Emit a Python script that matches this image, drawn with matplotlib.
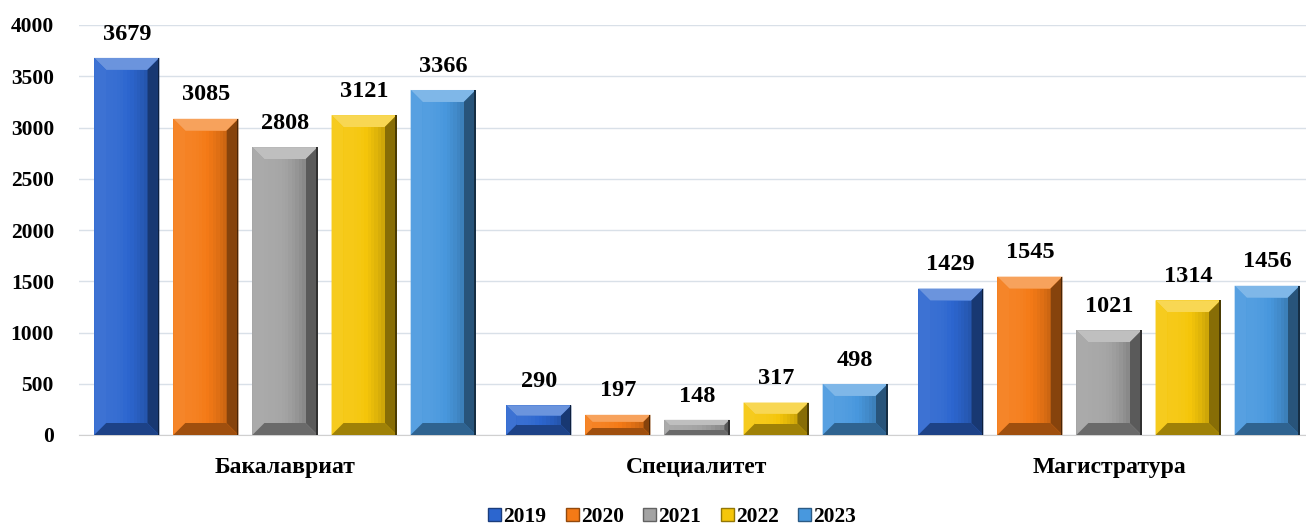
import matplotlib
matplotlib.use("Agg")
import matplotlib.pyplot as plt
import matplotlib.colors as mcolors
from matplotlib.patches import Polygon
from matplotlib.patches import Patch
import numpy as np

# -----------------------------------
# DATA
# -----------------------------------

categories = ["Бакалавриат", "Специалитет", "Магистратура"]
years = ["2019", "2020", "2021", "2022", "2023"]

values_2019 = [3679, 290, 1429]
values_2020 = [3085, 197, 1545]
values_2021 = [2808, 148, 1021]
values_2022 = [3121, 317, 1314]
values_2023 = [3366, 498, 1456]

series = [values_2019, values_2020, values_2021, values_2022, values_2023]
colors = ["#2C66CF", "#F47A16", "#A3A3A3", "#F5C60A", "#4898DE"]

yticks = [0, 500, 1000, 1500, 2000, 2500, 3000, 3500, 4000]

# -----------------------------------
# FIGURE
# -----------------------------------

plt.rcParams["font.family"] = ["Liberation Serif", "DejaVu Serif"]
plt.rcParams["font.weight"] = "bold"

W, H = 1306, 527
fig = plt.figure(figsize=(W / 100, H / 100), dpi=100)
ax = fig.add_axes([79 / W, 1 - 435 / H, 1 - 79 / W, 410 / H])

x = np.arange(len(categories))
step = 0.192
width = 0.158


def shade(c, f):
    r, g, b = mcolors.to_rgb(c)
    if f >= 0:
        return (r + (1 - r) * f, g + (1 - g) * f, b + (1 - b) * f)
    return (r * (1 + f), g * (1 + f), b * (1 + f))


def bevel(bar, color):
    # bevel drawn in pixel space from the bar's own geometry
    (x0, y0), (x1, y1) = ax.transData.transform(
        [(bar.get_x(), 0), (bar.get_x() + bar.get_width(), bar.get_height())]
    )
    h = y1 - y0
    b = min(12, h * 0.35)
    pieces = [
        ([(x0, y1), (x1, y1), (x1 - b, y1 - b), (x0 + b, y1 - b)], shade(color, 0.3)),
        ([(x0, y0), (x0, y1), (x0 + b, y1 - b), (x0 + b, y0 + b)], shade(color, 0.08)),
        ([(x1, y0), (x1, y1), (x1 - b, y1 - b), (x1 - b, y0 + b)], shade(color, -0.45)),
        ([(x0, y0), (x1, y0), (x1 - b, y0 + b), (x0 + b, y0 + b)], shade(color, -0.35)),
    ]
    for pts, c in pieces:
        ax.add_patch(Polygon(pts, closed=True, facecolor=c, edgecolor="none",
                             transform=None, zorder=4))
    # soft horizontal shading on the face
    n = 12
    fw = (x1 - b) - (x0 + b)
    for k in range(n):
        xa = x0 + b + fw * k / n
        xb = x0 + b + fw * (k + 1) / n
        f = 0.06 - 0.22 * (k / (n - 1)) ** 2
        ax.add_patch(Polygon([(xa, y0 + b), (xb, y0 + b), (xb, y1 - b), (xa, y1 - b)],
                             facecolor=shade(color, f), edgecolor="none",
                             transform=None, zorder=4))
    ax.add_patch(Polygon([(x1 - 1.5, y0), (x1 - 1.5, y1), (x1, y1), (x1, y0)],
                         facecolor=shade(color, -0.7), edgecolor="none",
                         transform=None, zorder=5))


ax.set_xlim(-0.5, -0.5 + (W - 79) / 412)
ax.set_ylim(0, 4000)

bars_all = []
for i, (vals, col) in enumerate(zip(series, colors)):
    bars = ax.bar(x + (i - 2) * step, vals, width, color=col, zorder=3)
    bars_all.append((bars, col))
    for bar, v in zip(bars, vals):
        ax.text(bar.get_x() + bar.get_width() / 2, v + 130, str(v),
                ha="center", va="bottom", fontsize=17.5, fontweight="bold")

for bars, col in bars_all:
    for bar in bars:
        bevel(bar, col)

# -----------------------------------
# AXES STYLE
# -----------------------------------

ax.set_yticks(yticks)
ax.set_yticklabels([str(t) for t in yticks], fontsize=15.5, fontweight="bold")
ax.set_xticks(x)
ax.set_xticklabels(categories, fontsize=17, fontweight="bold")
ax.tick_params(axis="both", length=0)
ax.tick_params(axis="x", pad=16)
ax.tick_params(axis="y", pad=18)
ax.grid(axis="y", color="#D9E0E8", linewidth=1, zorder=0)
for s in ["top", "right", "left"]:
    ax.spines[s].set_visible(False)
ax.spines["bottom"].set_color("#D0D0D0")

handles = [Patch(facecolor=c, edgecolor=shade(c, -0.4), linewidth=1) for c in colors]
fig.legend(handles, years, loc="center", bbox_to_anchor=(672 / W, 1 - 517 / H),
           ncol=5, frameon=False, handlelength=0.6, handleheight=0.6,
           handletextpad=0.1, columnspacing=0.9, prop={"weight": "bold", "size": 15.5})

fig.savefig("out.png", dpi=100)
